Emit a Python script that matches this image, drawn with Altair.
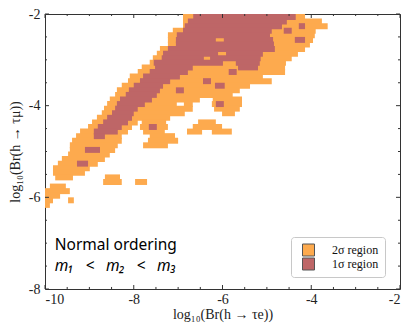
import altair as alt
import pandas as pd

# Axis ranges (log10 of branching ratios)
X_DOMAIN = [-10, -2]
Y_DOMAIN = [-8, -2]

# Contour regions stored row by row: each row is a horizontal band of
# height ROW_STEP starting at ROW_TOP, holding [x_start, x_end] intervals.
ROW_TOP = -2.0
ROW_STEP = 0.1
ROW_OVERLAP = 0.03  # bands overlap slightly so no seams show between rows

two_sigma_rows = {
    0: [(-6.89, -4.14)],
    1: [(-6.89, -3.76)],
    2: [(-6.89, -3.63)],
    3: [(-7.12, -3.90)],
    4: [(-7.23, -3.92)],
    5: [(-7.23, -3.96)],
    6: [(-7.23, -4.03)],
    7: [(-7.41, -4.14)],
    8: [(-7.48, -4.30)],
    9: [(-7.57, -4.44)],
    10: [(-7.64, -4.57)],
    11: [(-7.82, -4.59)],
    12: [(-7.91, -4.59)],
    13: [(-8.09, -5.09)],
    14: [(-8.13, -4.89)],
    15: [(-8.27, -5.38)],
    16: [(-8.38, -5.61)],
    17: [(-8.42, -5.77)],
    18: [(-8.54, -6.51), (-6.22, -5.56)],
    19: [(-8.60, -7.03), (-6.87, -6.67), (-6.24, -5.56)],
    20: [(-8.67, -6.67), (-6.19, -5.61)],
    21: [(-8.72, -6.85), (-6.01, -5.72)],
    22: [(-8.83, -7.18)],
    23: [(-8.94, -7.91), (-7.82, -7.27), (-6.55, -6.15)],
    24: [(-9.03, -8.04), (-7.86, -7.23), (-6.67, -6.01)],
    25: [(-9.21, -8.13), (-7.79, -7.30), (-6.80, -6.46), (-6.24, -5.79)],
    26: [(-9.30, -8.27), (-7.64, -7.07)],
    27: [(-9.39, -8.27), (-7.68, -7.00)],
    28: [(-9.44, -8.36), (-7.79, -7.23)],
    29: [(-9.44, -8.42)],
    30: [(-9.48, -8.54)],
    31: [(-9.62, -8.65)],
    32: [(-9.71, -8.81)],
    33: [(-9.82, -8.99)],
    34: [(-9.82, -9.10)],
    35: [(-9.77, -9.37), (-8.65, -8.31)],
    36: [(-8.69, -8.27), (-7.97, -7.70)],
    37: [(-9.89, -9.53)],
    38: [(-10.0, -9.44)],
    39: [(-10.0, -9.66)],
    40: [(-10.0, -9.82), (-9.48, -9.35)],
    41: [(-10.0, -9.89)],
}

one_sigma_rows = {
    0: [(-6.66, -4.35)],
    1: [(-6.78, -4.55)],
    2: [(-6.85, -4.66), (-4.28, -4.14)],
    3: [(-6.89, -4.89), (-4.62, -4.44)],
    4: [(-7.03, -4.93)],
    5: [(-7.05, -6.15), (-5.97, -4.86), (-4.37, -4.14)],
    6: [(-7.05, -4.84)],
    7: [(-7.23, -4.82)],
    8: [(-7.34, -6.10), (-5.92, -5.09)],
    9: [(-7.37, -6.42), (-6.28, -5.14)],
    10: [(-7.55, -5.99), (-5.70, -5.16)],
    11: [(-7.52, -6.67), (-5.65, -5.20)],
    12: [(-7.64, -6.78), (-5.86, -5.68)],
    13: [(-7.79, -6.96)],
    14: [(-7.86, -7.18), (-6.44, -6.26)],
    15: [(-8.00, -7.34), (-6.17, -5.95)],
    16: [(-8.11, -7.41), (-7.05, -6.87)],
    17: [(-8.18, -7.48)],
    18: [(-8.31, -7.59)],
    19: [(-8.38, -7.75), (-6.15, -5.97)],
    20: [(-8.42, -7.91)],
    21: [(-8.49, -8.00)],
    22: [(-8.60, -8.04)],
    23: [(-8.69, -8.13)],
    24: [(-8.81, -8.27), (-7.66, -7.48)],
    25: [(-8.90, -8.36)],
    26: [(-8.90, -8.65)],
    29: [(-9.10, -8.76)],
    32: [(-9.28, -9.03)],
}

REGION_LABELS = ["2σ region", "1σ region"]
REGION_COLORS = ["#FDAA4E", "#BE6667"]

# Tick marks (drawn inward on all four sides)
x_major = [-10, -8, -6, -4, -2]
y_major = [-8, -6, -4, -2]
x_minor = [-9.5, -9, -8.5, -7.5, -7, -6.5, -5.5, -5, -4.5, -3.5, -3, -2.5]
y_minor = [-7.5, -7, -6.5, -5.5, -5, -4.5, -3.5, -3, -2.5]

note_x = [-9.78, -9.78]
note_y = [-7.15, -7.61]
note_text = ["Normal ordering", "m₁\u2002\u2005<\u2002\u2005m₂\u2002\u2005<\u2002\u2005m₃"]

SERIF = "Liberation Serif"
SANS = "Noto Sans"

# ---- build tables -------------------------------------------------------
cells = []
for order, (label, rows) in enumerate(zip(REGION_LABELS, [two_sigma_rows, one_sigma_rows])):
    for k, segs in rows.items():
        y_hi = ROW_TOP - ROW_STEP * k
        y_lo = max(y_hi - ROW_STEP - ROW_OVERLAP, Y_DOMAIN[0])
        for x0, x1 in segs:
            cells.append({"region": label, "layer": order,
                          "x": x0, "x2": x1, "y": y_lo, "y2": y_hi})
cells = pd.DataFrame(cells)

MAJ_Y, MIN_Y = 0.087, 0.044   # tick lengths in y units
MAJ_X, MIN_X = 0.09, 0.045    # tick lengths in x units
ticks = []
for xs, ln in ((x_major, MAJ_Y), (x_minor, MIN_Y)):
    for v in xs:
        ticks.append({"x": v, "x2": v, "y": Y_DOMAIN[0], "y2": Y_DOMAIN[0] + ln})
        ticks.append({"x": v, "x2": v, "y": Y_DOMAIN[1], "y2": Y_DOMAIN[1] - ln})
for ys, ln in ((y_major, MAJ_X), (y_minor, MIN_X)):
    for v in ys:
        ticks.append({"x": X_DOMAIN[0], "x2": X_DOMAIN[0] + ln, "y": v, "y2": v})
        ticks.append({"x": X_DOMAIN[1], "x2": X_DOMAIN[1] - ln, "y": v, "y2": v})
ticks = pd.DataFrame(ticks)

notes = pd.DataFrame({"x": note_x, "y": note_y, "text": note_text})

x_scale = alt.Scale(domain=X_DOMAIN, nice=False, zero=False)
y_scale = alt.Scale(domain=Y_DOMAIN, nice=False, zero=False)
color_scale = alt.Scale(domain=REGION_LABELS, range=REGION_COLORS)

x_axis = alt.Axis(
    title="log₁₀(Br(h → τe))", values=x_major, labelExpr="'' + datum.value",
    ticks=False, domain=False, grid=False, labelPadding=3, titlePadding=1,
)
y_axis = alt.Axis(
    title="log₁₀(Br(h → τμ))", values=y_major, labelExpr="'' + datum.value",
    ticks=False, domain=False, grid=False, labelPadding=5, titlePadding=6,
)

regions = alt.Chart(cells).mark_rect(strokeWidth=0).encode(
    x=alt.X("x:Q", scale=x_scale, axis=x_axis),
    x2="x2:Q",
    y=alt.Y("y:Q", scale=y_scale, axis=y_axis),
    y2="y2:Q",
    color=alt.Color(
        "region:N", scale=color_scale, sort=REGION_LABELS,
        legend=alt.Legend(
            title=None, orient="none", legendX=246, legendY=223,
            symbolType="square", symbolSize=144, symbolStrokeColor="#555555",
            symbolStrokeWidth=1, symbolOffset=5, labelOffset=17, rowPadding=0,
            clipHeight=14, padding=6, fillColor="white", strokeColor="#c8c8c8",
            cornerRadius=3, labelFont=SERIF, labelFontSize=12, labelColor="#111111",
        ),
    ),
    order=alt.Order("layer:Q"),
)

tick_marks = alt.Chart(ticks).mark_rule(color="#333333", strokeWidth=1).encode(
    x="x:Q", x2="x2:Q", y="y:Q", y2="y2:Q"
)

note1 = alt.Chart(notes.iloc[[0]]).mark_text(
    font=SANS, fontSize=15.5, align="left", baseline="alphabetic", color="#000000"
).encode(x="x:Q", y="y:Q", text="text:N")
note2 = alt.Chart(notes.iloc[[1]]).mark_text(
    font=SANS, fontSize=15.5, fontStyle="italic", align="left",
    baseline="alphabetic", color="#000000"
).encode(x="x:Q", y="y:Q", text="text:N")

chart = alt.layer(regions, tick_marks, note1, note2).properties(
    width=355, height=275,
    autosize=alt.AutoSizeParams(type="none"),
    padding={"left": 45, "top": 14, "right": 7, "bottom": 34},
).configure_view(
    stroke="#333333", strokeWidth=1
).configure_axis(
    labelFont=SERIF, labelFontSize=14, labelColor="#222222",
    titleFont=SERIF, titleFontSize=14, titleFontWeight="normal", titleColor="#222222",
)

chart.save("out.html", embed_options={"renderer": "svg", "actions": False})
